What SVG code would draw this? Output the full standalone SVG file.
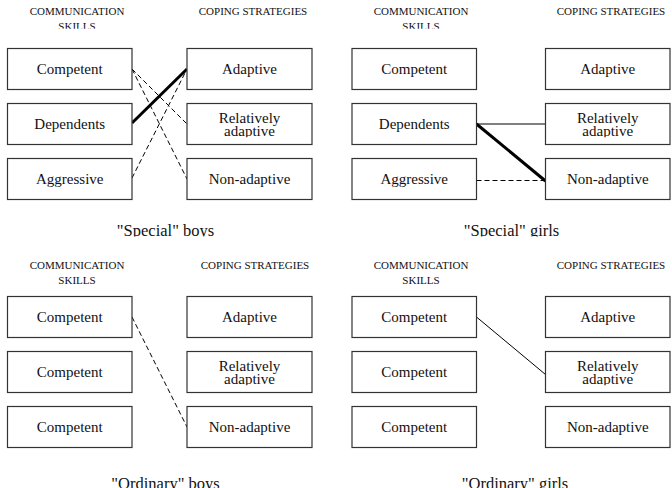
<svg xmlns="http://www.w3.org/2000/svg" width="672" height="488" viewBox="0 0 672 488">
<style>
.box{fill:#fff;stroke:#333;stroke-width:1.2}
.t{font-family:"Liberation Serif","Times New Roman",serif;font-size:15px;fill:#111;text-anchor:middle}
.h{font-family:"Liberation Serif","Times New Roman",serif;font-size:11px;fill:#111;text-anchor:middle}
.c{font-family:"Liberation Serif","Times New Roman",serif;font-size:16.5px;fill:#111;text-anchor:middle}
.thin{stroke:#000;stroke-width:1;fill:none}
.thick{stroke:#000;stroke-width:3;fill:none}
.dash{stroke:#000;stroke-width:1;fill:none;stroke-dasharray:5 3}
</style>
<defs>
<clipPath id="topclip"><rect x="0" y="0" width="672" height="28.8"/></clipPath>
<clipPath id="capclip"><rect x="0" y="0" width="672" height="236.5"/></clipPath>
<clipPath id="relA"><rect x="0" y="0" width="672" height="137.3"/></clipPath>
<clipPath id="relC"><rect x="0" y="0" width="672" height="385.3"/></clipPath>
</defs>

<!-- Headers -->
<g id="headers">
<text class="h" x="77" y="15">COMMUNICATION</text>
<text class="h" x="77" y="30" clip-path="url(#topclip)">SKILLS</text>
<text class="h" x="253" y="15">COPING STRATEGIES</text>
<text class="h" x="421" y="15">COMMUNICATION</text>
<text class="h" x="421" y="30" clip-path="url(#topclip)">SKILLS</text>
<text class="h" x="611" y="15">COPING STRATEGIES</text>
<text class="h" x="77" y="269">COMMUNICATION</text>
<text class="h" x="77" y="284">SKILLS</text>
<text class="h" x="255" y="269">COPING STRATEGIES</text>
<text class="h" x="421" y="269">COMMUNICATION</text>
<text class="h" x="421" y="284">SKILLS</text>
<text class="h" x="611" y="269">COPING STRATEGIES</text>
</g>

<!-- Connectors -->
<g id="connectors">
<line class="thick" x1="132" y1="123" x2="187" y2="69"/>
<line class="dash" x1="132" y1="69" x2="187" y2="124"/>
<line class="dash" x1="132" y1="69" x2="187" y2="179"/>
<line class="dash" x1="132" y1="178" x2="187" y2="69"/>
<line class="thin" x1="476.5" y1="124" x2="545.5" y2="124"/>
<line class="thick" x1="476.5" y1="124" x2="545.5" y2="181"/>
<line class="dash" x1="476.5" y1="180.5" x2="545.5" y2="180.5"/>
<line class="dash" x1="132" y1="317" x2="187" y2="427"/>
<line class="thin" x1="476.5" y1="317" x2="545.5" y2="374.5"/>
</g>

<!-- Panel A: Special boys -->
<g id="a-competent"><rect class="box" x="7.5" y="48.5" width="124.5" height="41"/><text class="t" x="69.75" y="74">Competent</text></g>
<g id="a-dependents"><rect class="box" x="7.5" y="103.5" width="124.5" height="41"/><text class="t" x="69.75" y="129">Dependents</text></g>
<g id="a-aggressive"><rect class="box" x="7.5" y="158.5" width="124.5" height="41"/><text class="t" x="69.75" y="184">Aggressive</text></g>
<g id="a-adaptive"><rect class="box" x="187" y="48.5" width="125" height="41"/><text class="t" x="249.5" y="74">Adaptive</text></g>
<g id="a-relatively"><rect class="box" x="187" y="103.5" width="125" height="41"/><text class="t" x="249.5" y="123.3">Relatively</text><text class="t" x="249.5" y="135.5" clip-path="url(#relA)">adaptive</text></g>
<g id="a-nonadaptive"><rect class="box" x="187" y="158.5" width="125" height="41"/><text class="t" x="249.5" y="184">Non-adaptive</text></g>
<text class="c" x="165.5" y="235.5" clip-path="url(#capclip)">"Special" boys</text>

<!-- Panel B: Special girls -->
<g id="b-competent"><rect class="box" x="352" y="48.5" width="124.5" height="41"/><text class="t" x="414.25" y="74">Competent</text></g>
<g id="b-dependents"><rect class="box" x="352" y="103.5" width="124.5" height="41"/><text class="t" x="414.25" y="129">Dependents</text></g>
<g id="b-aggressive"><rect class="box" x="352" y="158.5" width="124.5" height="41"/><text class="t" x="414.25" y="184">Aggressive</text></g>
<g id="b-adaptive"><rect class="box" x="545.5" y="48.5" width="124.5" height="41"/><text class="t" x="607.75" y="74">Adaptive</text></g>
<g id="b-relatively"><rect class="box" x="545.5" y="103.5" width="124.5" height="41"/><text class="t" x="607.75" y="123.3">Relatively</text><text class="t" x="607.75" y="135.5" clip-path="url(#relA)">adaptive</text></g>
<g id="b-nonadaptive"><rect class="box" x="545.5" y="158.5" width="124.5" height="41"/><text class="t" x="607.75" y="184">Non-adaptive</text></g>
<text class="c" x="511.5" y="235.5" clip-path="url(#capclip)">"Special" girls</text>

<!-- Panel C: Ordinary boys -->
<g id="c-competent1"><rect class="box" x="7.5" y="296.5" width="124.5" height="41"/><text class="t" x="69.75" y="322">Competent</text></g>
<g id="c-competent2"><rect class="box" x="7.5" y="351.5" width="124.5" height="41"/><text class="t" x="69.75" y="377">Competent</text></g>
<g id="c-competent3"><rect class="box" x="7.5" y="406.5" width="124.5" height="41"/><text class="t" x="69.75" y="432">Competent</text></g>
<g id="c-adaptive"><rect class="box" x="187" y="296.5" width="125" height="41"/><text class="t" x="249.5" y="322">Adaptive</text></g>
<g id="c-relatively"><rect class="box" x="187" y="351.5" width="125" height="41"/><text class="t" x="249.5" y="371.3">Relatively</text><text class="t" x="249.5" y="383.5" clip-path="url(#relC)">adaptive</text></g>
<g id="c-nonadaptive"><rect class="box" x="187" y="406.5" width="125" height="41"/><text class="t" x="249.5" y="432">Non-adaptive</text></g>
<text class="c" x="165.5" y="489">"Ordinary" boys</text>

<!-- Panel D: Ordinary girls -->
<g id="d-competent1"><rect class="box" x="352" y="296.5" width="124.5" height="41"/><text class="t" x="414.25" y="322">Competent</text></g>
<g id="d-competent2"><rect class="box" x="352" y="351.5" width="124.5" height="41"/><text class="t" x="414.25" y="377">Competent</text></g>
<g id="d-competent3"><rect class="box" x="352" y="406.5" width="124.5" height="41"/><text class="t" x="414.25" y="432">Competent</text></g>
<g id="d-adaptive"><rect class="box" x="545.5" y="296.5" width="124.5" height="41"/><text class="t" x="607.75" y="322">Adaptive</text></g>
<g id="d-relatively"><rect class="box" x="545.5" y="351.5" width="124.5" height="41"/><text class="t" x="607.75" y="371.3">Relatively</text><text class="t" x="607.75" y="383.5" clip-path="url(#relC)">adaptive</text></g>
<g id="d-nonadaptive"><rect class="box" x="545.5" y="406.5" width="124.5" height="41"/><text class="t" x="607.75" y="432">Non-adaptive</text></g>
<text class="c" x="515" y="489">"Ordinary" girls</text>
</svg>
